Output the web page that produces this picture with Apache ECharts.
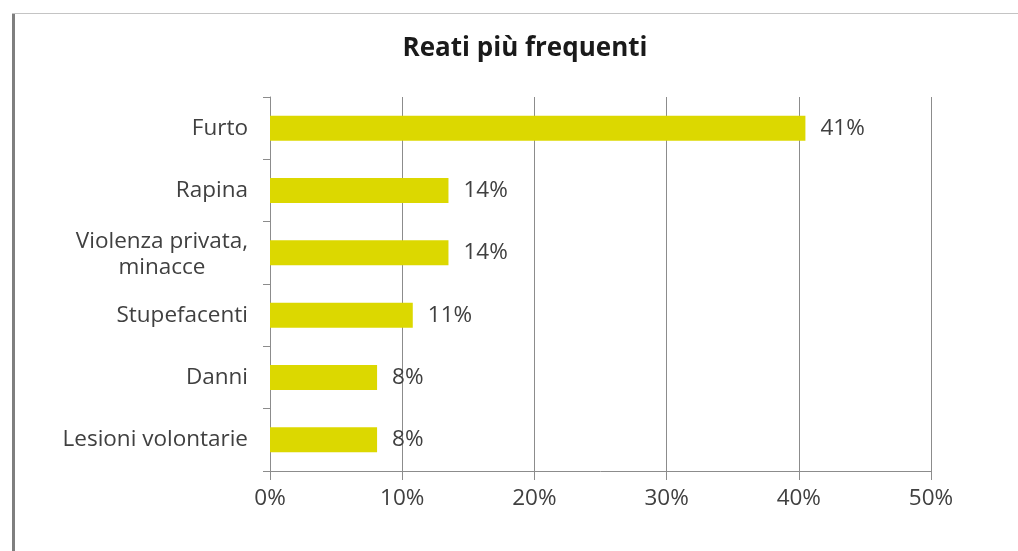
<!DOCTYPE html>
<html>
<head>
<meta charset="utf-8">
<script src="https://cdn.jsdelivr.net/npm/echarts@6/dist/echarts.min.js"></script>
<style>
  html, body { margin: 0; padding: 0; background: #fff; }
  #main { width: 1018px; height: 551px; }
</style>
</head>
<body>
<div id="main"></div>
<script>
const categories = ['Furto', 'Rapina', 'Violenza privata,\nminacce', 'Stupefacenti', 'Danni', 'Lesioni volontarie'];
const values = [40.5, 13.5, 13.5, 10.8, 8.1, 8.1];
const ticks = { min: 0, max: 50, interval: 10 };

const chartDom = document.getElementById('main');
const myChart = echarts.init(chartDom);
const font = '"Open Sans", sans-serif';
const textColor = '#404040';
const lineColor = '#8c8c8c';
const fs = 22.5;

const option = {
    animation: false,
    title: {
        text: 'Reati più frequenti',
        left: 520,
        top: 31,
        textAlign: 'center',
        textStyle: {
            fontFamily: font,
            fontWeight: 'bold',
            fontSize: 26,
            color: '#1a1a1a'
        }
    },
    graphic: [
        { type: 'rect', shape: { x: 12, y: 13, width: 3, height: 540 }, style: { fill: '#7f7f7f' } },
        { type: 'rect', shape: { x: 12, y: 13, width: 1010, height: 1 }, style: { fill: '#c4c4c4' } }
    ],
    grid: { left: 270, right: 87, top: 97, bottom: 80 },
    xAxis: {
        type: 'value',
        min: ticks.min,
        max: ticks.max,
        interval: ticks.interval,
        axisLine: { show: true, lineStyle: { color: lineColor } },
        axisTick: { show: true, length: 9, lineStyle: { color: lineColor } },
        splitLine: { show: true, lineStyle: { color: lineColor } },
        axisLabel: {
            formatter: '{value}%',
            margin: 16,
            fontFamily: font,
            fontSize: fs,
            color: textColor
        }
    },
    yAxis: {
        type: 'category',
        inverse: true,
        data: categories,
        axisLine: { show: true, lineStyle: { color: lineColor } },
        axisTick: { show: true, length: 7, alignWithLabel: false, lineStyle: { color: lineColor } },
        axisLabel: {
            margin: 22,
            fontFamily: font,
            fontSize: fs,
            color: textColor,
            lineHeight: 26,
            formatter: function (v) {
                if (v.indexOf('\n') < 0) return v;
                return v.split('\n').map(function (s) { return '{c|' + s + '}'; }).join('\n');
            },
            rich: {
                c: { width: 172, align: 'center', fontFamily: font, fontSize: fs, color: textColor, lineHeight: 26, padding: [3, 0, 0, 0] }
            }
        }
    },
    series: [{
        type: 'bar',
        data: values,
        barWidth: 25,
        itemStyle: { color: '#dcd800' },
        label: {
            show: true,
            position: 'right',
            distance: 15,
            formatter: function (p) { return Math.round(p.value) + '%'; },
            fontFamily: font,
            fontSize: fs,
            color: textColor
        }
    }]
};

myChart.setOption(option);
</script>
</body>
</html>
